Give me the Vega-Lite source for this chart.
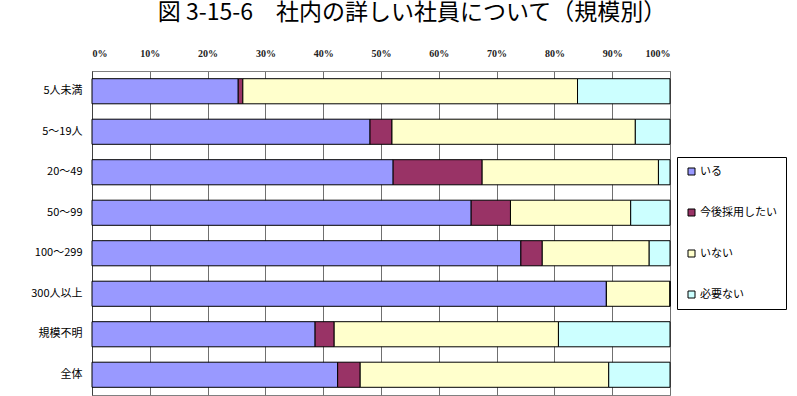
{
  "$schema": "https://vega.github.io/schema/vega-lite/v6.json",
  "width": 578,
  "height": 324,
  "autosize": "none",
  "padding": {"left": 92, "top": 71, "right": 127, "bottom": 1},
  "background": "white",
  "title": {
    "text": "図 3-15-6　社内の詳しい社員について（規模別）",
    "font": "Noto Sans CJK JP",
    "fontSize": 23,
    "fontWeight": "normal",
    "color": "black",
    "anchor": "middle",
    "dx": 31,
    "offset": 5,
    "baseline": "alphabetic"
  },
  "data": {
    "values": [
      {"size": "5人未満", "answer": "いる", "order": 1, "pct": 25.3},
      {"size": "5人未満", "answer": "今後採用したい", "order": 2, "pct": 0.8},
      {"size": "5人未満", "answer": "いない", "order": 3, "pct": 57.9},
      {"size": "5人未満", "answer": "必要ない", "order": 4, "pct": 16.0},
      {"size": "5～19人", "answer": "いる", "order": 1, "pct": 48.1},
      {"size": "5～19人", "answer": "今後採用したい", "order": 2, "pct": 3.8},
      {"size": "5～19人", "answer": "いない", "order": 3, "pct": 42.1},
      {"size": "5～19人", "answer": "必要ない", "order": 4, "pct": 6.0},
      {"size": "20～49", "answer": "いる", "order": 1, "pct": 52.1},
      {"size": "20～49", "answer": "今後採用したい", "order": 2, "pct": 15.4},
      {"size": "20～49", "answer": "いない", "order": 3, "pct": 30.5},
      {"size": "20～49", "answer": "必要ない", "order": 4, "pct": 2.0},
      {"size": "50～99", "answer": "いる", "order": 1, "pct": 65.6},
      {"size": "50～99", "answer": "今後採用したい", "order": 2, "pct": 6.8},
      {"size": "50～99", "answer": "いない", "order": 3, "pct": 20.8},
      {"size": "50～99", "answer": "必要ない", "order": 4, "pct": 6.8},
      {"size": "100～299", "answer": "いる", "order": 1, "pct": 74.2},
      {"size": "100～299", "answer": "今後採用したい", "order": 2, "pct": 3.7},
      {"size": "100～299", "answer": "いない", "order": 3, "pct": 18.5},
      {"size": "100～299", "answer": "必要ない", "order": 4, "pct": 3.6},
      {"size": "300人以上", "answer": "いる", "order": 1, "pct": 89.0},
      {"size": "300人以上", "answer": "今後採用したい", "order": 2, "pct": 0.0},
      {"size": "300人以上", "answer": "いない", "order": 3, "pct": 11.0},
      {"size": "300人以上", "answer": "必要ない", "order": 4, "pct": 0.0},
      {"size": "規模不明", "answer": "いる", "order": 1, "pct": 38.6},
      {"size": "規模不明", "answer": "今後採用したい", "order": 2, "pct": 3.3},
      {"size": "規模不明", "answer": "いない", "order": 3, "pct": 38.8},
      {"size": "規模不明", "answer": "必要ない", "order": 4, "pct": 19.3},
      {"size": "全体", "answer": "いる", "order": 1, "pct": 42.5},
      {"size": "全体", "answer": "今後採用したい", "order": 2, "pct": 3.9},
      {"size": "全体", "answer": "いない", "order": 3, "pct": 43.0},
      {"size": "全体", "answer": "必要ない", "order": 4, "pct": 10.6}
    ]
  },
  "mark": {"type": "bar", "stroke": "black", "strokeWidth": 1},
  "encoding": {
    "y": {
      "field": "size",
      "type": "nominal",
      "sort": ["5人未満", "5～19人", "20～49", "50～99", "100～299", "300人以上", "規模不明", "全体"],
      "scale": {"paddingInner": 0.38, "paddingOuter": 0.19},
      "axis": {
        "title": null,
        "labelFont": "Noto Sans CJK JP",
        "labelFontSize": 11,
        "labelColor": "black",
        "labelPadding": 10,
        "ticks": false,
        "domainColor": "#404040",
        "domainWidth": 1
      }
    },
    "x": {
      "field": "pct",
      "type": "quantitative",
      "stack": "normalize",
      "scale": {"domain": [0, 1]},
      "axis": {
        "orient": "top",
        "title": null,
        "format": ".0%",
        "values": [0, 0.1, 0.2, 0.3, 0.4, 0.5, 0.6, 0.7, 0.8, 0.9, 1],
        "labelFont": "Liberation Sans Narrow",
        "labelFontSize": 10,
        "labelFontWeight": "bold",
        "labelColor": "#222222",
        "ticks": false,
        "labelPadding": 13,
        "domainColor": "#808080",
        "grid": true,
        "gridColor": "#707070",
        "gridWidth": 1,
        "gridOpacity": 1
      }
    },
    "color": {
      "field": "answer",
      "type": "nominal",
      "sort": ["いる", "今後採用したい", "いない", "必要ない"],
      "scale": {
        "domain": ["いる", "今後採用したい", "いない", "必要ない"],
        "range": ["#9999FF", "#993366", "#FFFFCC", "#CCFFFF"]
      },
      "legend": {
        "title": null,
        "orient": "none",
        "legendX": 585,
        "legendY": 86,
        "symbolType": "square",
        "symbolSize": 49,
        "symbolStrokeColor": "black",
        "symbolStrokeWidth": 1,
        "symbolOpacity": 1,
        "labelFont": "Noto Sans CJK JP",
        "labelFontSize": 11,
        "labelColor": "black",
        "labelOffset": 3,
        "rowPadding": 29,
        "padding": 9,
        "strokeColor": "black",
        "fillColor": "white"
      }
    },
    "order": {"field": "order", "type": "quantitative"}
  },
  "config": {
    "view": {"stroke": "#808080", "strokeWidth": 1}
  }
}
